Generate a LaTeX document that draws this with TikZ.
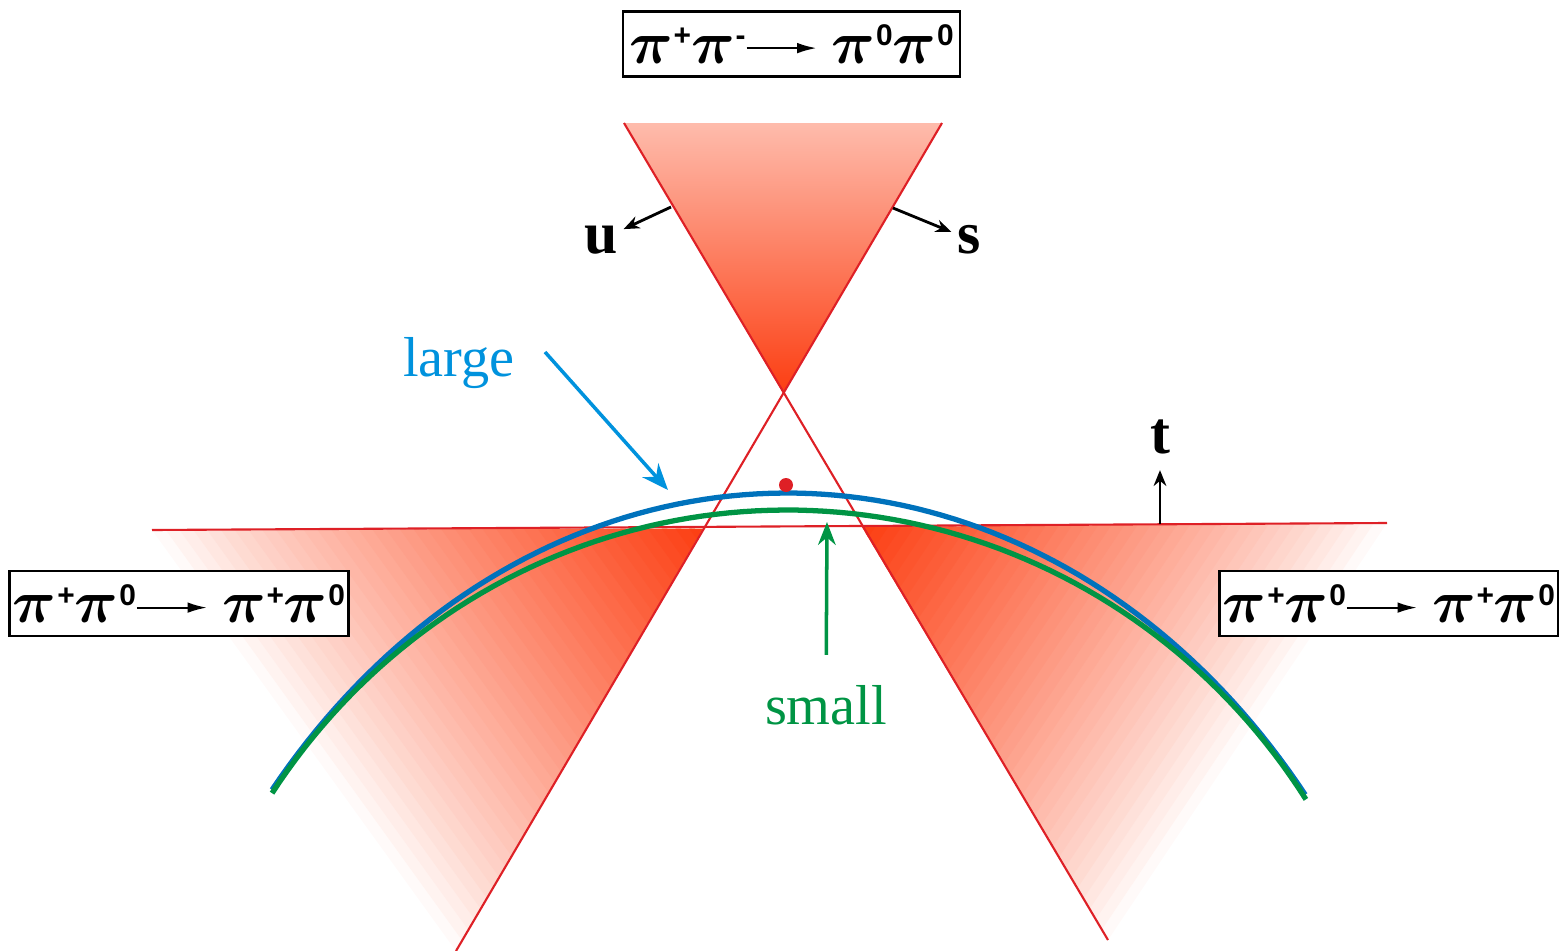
\documentclass[tikz,border=0pt]{standalone}
\usepackage{amsmath}
\usepackage{fontspec}
\setmainfont{Liberation Serif}
\setsansfont{Liberation Sans}
\usetikzlibrary{arrows.meta,positioning,calc}
\definecolor{conered}{RGB}{252,62,18}
\definecolor{linered}{RGB}{222,32,38}
\definecolor{curveblue}{RGB}{0,114,188}
\definecolor{labelblue}{RGB}{0,146,221}
\definecolor{curvegreen}{RGB}{0,148,68}

\newcommand{\pisup}[1]{$\boldsymbol{\pi}$\kern0.2pt\raisebox{5pt}{\fontsize{8.5}{9}\selectfont\sffamily\bfseries #1}}
\newcommand{\reacarrow}{\tikz[baseline={(0pt,-4.3pt)}]\draw[line width=0.6pt,-{Latex[length=5.5pt,width=3pt]}] (0pt,0pt) -- (0.7cm,0pt);}

\begin{document}
\begin{tikzpicture}[x=0.01cm,y=-0.01cm,
  reacbox/.style={draw,line width=0.7pt,fill=white,minimum width=3.37cm,
                  minimum height=0.65cm,inner sep=1pt,font=\fontsize{16}{19}\selectfont},
  redline/.style={linered,line width=0.6pt},
  arcline/.style={line width=1.5pt},
  axlbl/.style={font=\fontsize{17}{20}\selectfont\bfseries,inner sep=1.5pt,anchor=base},
  sizelbl/.style={font=\fontsize{16}{19}\selectfont,anchor=base},
  ptr/.style={-{Stealth[length=4.5pt,width=3.6pt]},line width=0.8pt}]
  \useasboundingbox (0,0) rectangle (1559,951);

  \coordinate (apex) at (783,393);
  \coordinate (topl) at (624,123);
  \coordinate (topr) at (942,123);
  \coordinate (botl) at (456,951);
  \coordinate (botr) at (1108,940);
  \coordinate (hl) at (152,530);
  \coordinate (hr) at (1387,523);
  \coordinate (crossl) at (703,528.5);
  \coordinate (crossr) at (862,527);

  \shade[top color=conered!35!white,bottom color=conered] (topl) -- (topr) -- (apex) -- cycle;
  \foreach \i in {0,...,39}{
    \pgfmathsetmacro{\pct}{100*((\i+0.5)/40)^0.85}
    \pgfmathsetmacro{\ta}{\i/40}
    \pgfmathsetmacro{\tb}{min(1,(\i+1.4)/40)}
    \fill[conered!\pct!white] ($(hl)!\ta!(crossl)$) -- ($(hl)!\tb!(crossl)$)
      -- ($(botl)!\tb!(crossl)$) -- ($(botl)!\ta!(crossl)$) -- cycle;
    \fill[conered!\pct!white] ($(hr)!\ta!(crossr)$) -- ($(hr)!\tb!(crossr)$)
      -- ($(botr)!\tb!(crossr)$) -- ($(botr)!\ta!(crossr)$) -- cycle;
  }

  \draw[redline] (topl) -- (botr);
  \draw[redline] (topr) -- (botl);
  \draw[redline] (hl) -- (hr);

  \draw[arcline,curveblue] plot[domain=140.75:38.8,samples=90] ({787+665*cos(\x)},{1301-808*sin(\x)});
  \draw[arcline,curvegreen] plot[domain=146.16:33.17,samples=90] ({787+620*cos(\x)},{1149-639*sin(\x)});
  \fill[linered] (786,485) circle (7);

  \node[axlbl] (u) at (601,253) {u};
  \node[axlbl] (s) at (969,253) {s};
  \node[axlbl] (t) at (1160,453) {t};
  \coordinate (utail) at (671,207);
  \coordinate (stail) at (893,208);
  \coordinate (ttail) at (1160,524);
  \draw[ptr] (utail) -- (u);
  \draw[ptr] (stail) -- (s);
  \draw[ptr,shorten >=3pt] (ttail) -- (t);

  \node[sizelbl,labelblue] (large) at (459,376) {large};
  \node[sizelbl,curvegreen] (small) at (826,724) {small};
  \coordinate (largetail) at (545,352);
  \coordinate (largetip) at (668,490);
  \coordinate (smalltip) at (827,522);
  \draw[labelblue,line width=1pt,-{Stealth[length=7.5pt,width=6pt]}] (largetail) -- (largetip);
  \draw[curvegreen,line width=1pt,shorten <=5pt,-{Stealth[length=6.5pt,width=5pt]}] (small) -- (smalltip);

  \node[reacbox] (pmzero) at (791.5,44) {\pisup{+}\pisup{-}\reacarrow\ \pisup{0}\pisup{0}};
  \node[reacbox] (leftel) at (179,603.5) {\pisup{+}\pisup{0}\reacarrow\ \pisup{+}\pisup{0}};
  \node[reacbox] (rightel) at (1389,603.5) {\pisup{+}\pisup{0}\reacarrow\ \pisup{+}\pisup{0}};
\end{tikzpicture}
\end{document}
